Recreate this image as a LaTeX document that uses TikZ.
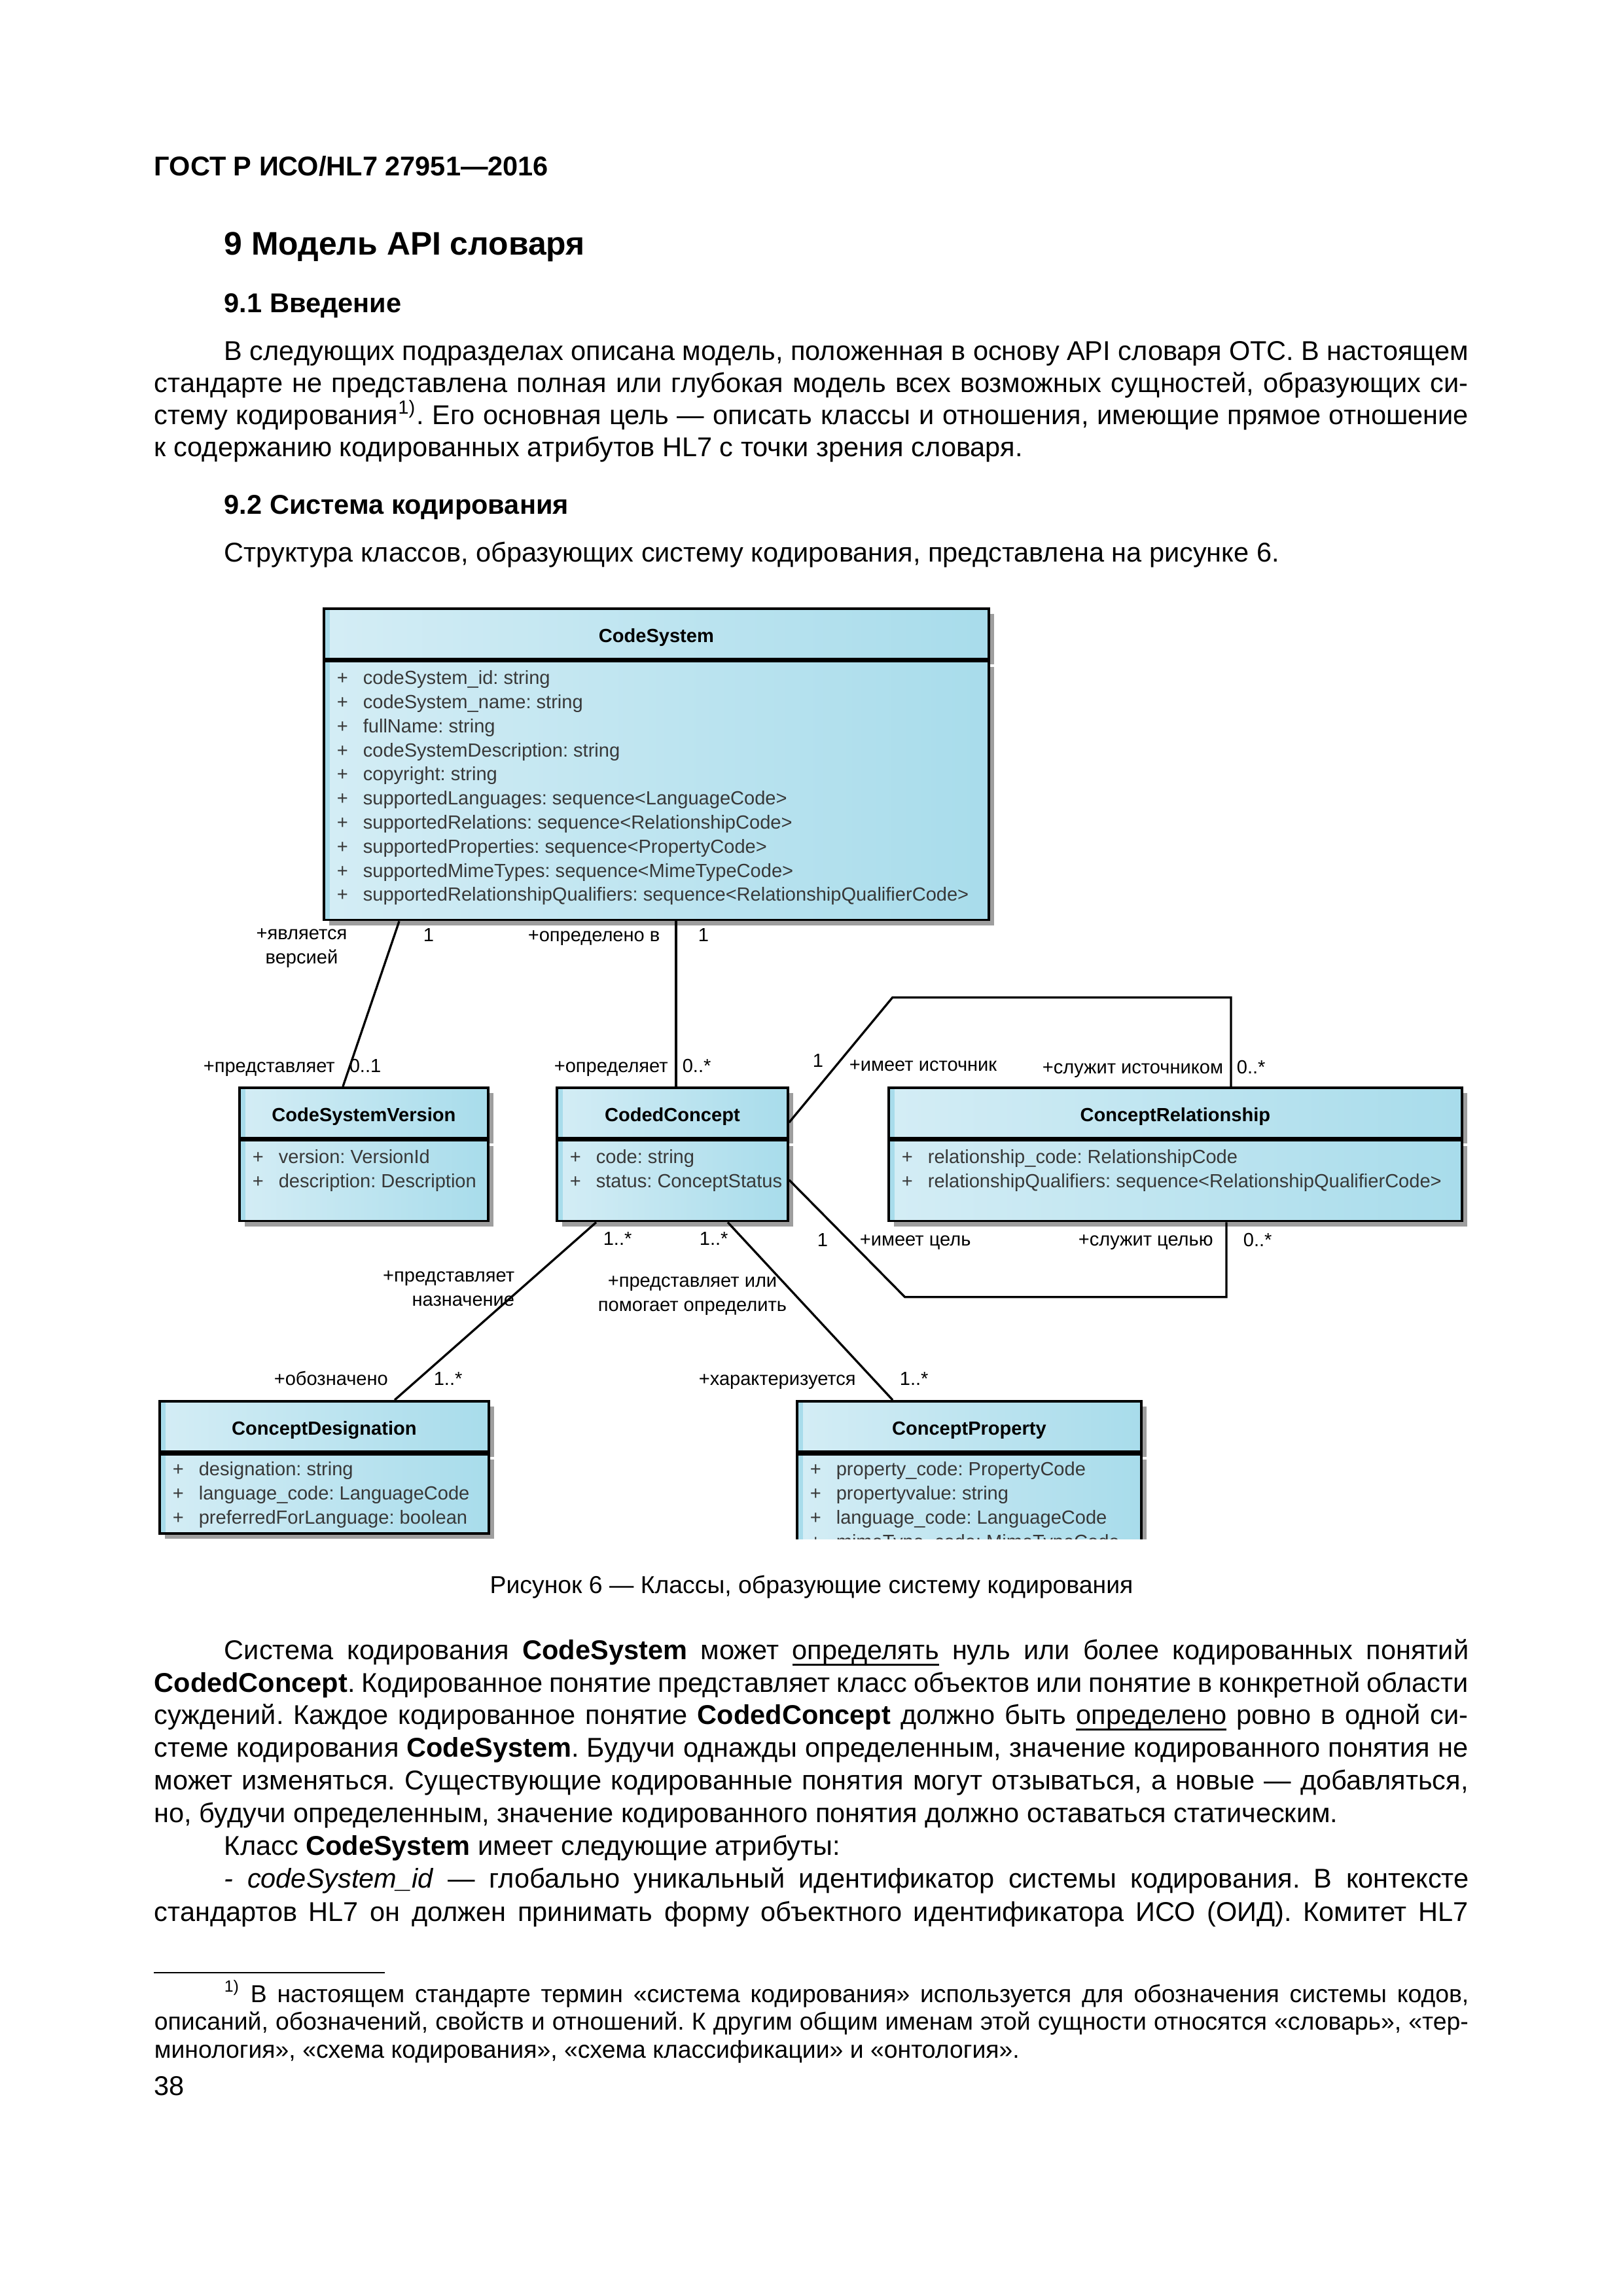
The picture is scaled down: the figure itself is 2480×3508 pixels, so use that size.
\documentclass[tikz,border=0pt]{standalone}
\usepackage{fontspec}
\setmainfont{Liberation Sans}
\usetikzlibrary{calc,shadows}
\newlength{\pxu}
\setlength{\pxu}{0.084667mm}
\definecolor{umlL}{RGB}{212,237,245}
\definecolor{umlR}{RGB}{168,220,235}
\newcommand{\txtfont}{\fontsize{10pt}{12pt}\selectfont}
\newcommand{\secfont}{\fontsize{12pt}{14pt}\selectfont\bfseries}
\newcommand{\subfont}{\fontsize{10pt}{12pt}\selectfont\bfseries}
\newcommand{\capfont}{\fontsize{9pt}{11pt}\selectfont}
\newcommand{\fnfont}{\fontsize{9pt}{11pt}\selectfont}
\newcommand{\umlfont}{\fontsize{7pt}{8.9pt}\selectfont}
% justified lines: full width and indented
\newcommand{\fl}[1]{\makebox[170mm][s]{#1}}
\newcommand{\il}[1]{\makebox[161mm][s]{#1}}
\newcommand{\uln}[1]{\setbox0\hbox{#1}\rlap{\rule[-2.3pt]{\wd0}{0.6pt}}\box0\relax}
\newcommand{\attrplus}{\makebox[40\pxu][l]{+}}
\tikzset{
  txt/.style    ={anchor=base west, inner sep=0pt, font=\txtfont},
  hdg/.style    ={anchor=base west, inner sep=0pt, font=\subfont},
  fn/.style     ={anchor=base west, inner sep=0pt, font=\fnfont},
  clshead/.style={draw, line width=0.9pt, anchor=north west, inner sep=0pt,
                  minimum height=77*\pxu, font=\umlfont\bfseries,
                  text height=6.4pt, text depth=0pt,
                  left color=umlL, right color=umlR,
                  path picture={\fill[umlR] (path picture bounding box.north west)
                    rectangle ([xshift=0.8mm]path picture bounding box.south west);},
                  drop shadow={shadow xshift=0.68mm, shadow yshift=-0.68mm,
                               fill=black!38, opacity=1}},
  clsbody/.style={clshead, font=\umlfont},
  attr/.style   ={anchor=base west, inner sep=0pt, font=\umlfont, text=black!78},
  lbl/.style    ={anchor=base west, inner sep=0pt, font=\umlfont},
  assoc/.style  ={line width=0.8pt},
}
\begin{document}
\frenchspacing
\begin{tikzpicture}[x=0.084667mm, y=-0.084667mm]
  \useasboundingbox (0,0) rectangle (2480,3508);
  % ---- page head and text above the figure
  \node[hdg] (gost) at (235,268) {ГОСТ Р ИСО/HL7 27951—2016};
  \node[hdg, font=\secfont] (sec9) at (342,389) {9 Модель API словаря};
  \node[hdg] (sec91) at (342,477) {9.1 Введение};
  \node[txt] (p1a) at (342,550) {\il{В следующих подразделах описана модель, положенная в основу API словаря ОТС. В настоящем}};
  \node[txt] (p1b) at (235,599) {\fl{стандарте не представлена полная или глубокая модель всех возможных сущностей, образующих си-}};
  \node[txt] (p1c) at (235,648) {\fl{стему кодирования\textsuperscript{1)}. Его основная цель — описать классы и отношения, имеющие прямое отношение}};
  \node[txt] (p1d) at (235,697) {к содержанию кодированных атрибутов HL7 с точки зрения словаря.};
  \node[hdg] (sec92) at (342,785) {9.2 Система кодирования};
  \node[txt] (p2a) at (342,858) {Структура классов, образующих систему кодирования, представлена на рисунке 6.};

  % ---- CodeSystem
  \node[clshead, minimum width=1016*\pxu] (csh) at (493,928) {CodeSystem};
  \node[clsbody, minimum width=1016*\pxu, minimum height=395*\pxu] (csb) at (csh.south west) {};
  \foreach \atext [count=\i from 0] in {codeSystem\_id: string, codeSystem\_name: string,
      fullName: string, codeSystemDescription: string, copyright: string,
      supportedLanguages: sequence<LanguageCode>, supportedRelations: sequence<RelationshipCode>,
      supportedProperties: sequence<PropertyCode>, supportedMimeTypes: sequence<MimeTypeCode>,
      supportedRelationshipQualifiers: sequence<RelationshipQualifierCode>}
    \node[attr] (csa\i) at ($(csb.north west)+(21,37+36.8*\i)$) {\attrplus\atext};
  % ---- CodeSystemVersion
  \node[clshead, minimum width=380*\pxu] (csvh) at (364,1660) {CodeSystemVersion};
  \node[clsbody, minimum width=380*\pxu, minimum height=123*\pxu] (csvb) at (csvh.south west) {};
  \foreach \atext [count=\i from 0] in {version: VersionId, description: Description}
    \node[attr] (csva\i) at ($(csvb.north west)+(21,37+36.8*\i)$) {\attrplus\atext};
  % ---- CodedConcept
  \node[clshead, minimum width=353*\pxu] (cch) at (849,1660) {CodedConcept};
  \node[clsbody, minimum width=353*\pxu, minimum height=123*\pxu] (ccb) at (cch.south west) {};
  \foreach \atext [count=\i from 0] in {code: string, status: ConceptStatus}
    \node[attr] (cca\i) at ($(ccb.north west)+(21,37+36.8*\i)$) {\attrplus\atext};
  % ---- ConceptRelationship
  \node[clshead, minimum width=876*\pxu] (crh) at (1356,1660) {ConceptRelationship};
  \node[clsbody, minimum width=876*\pxu, minimum height=123*\pxu] (crb) at (crh.south west) {};
  \foreach \atext [count=\i from 0] in {relationship\_code: RelationshipCode,
      relationshipQualifiers: sequence<RelationshipQualifierCode>}
    \node[attr] (cra\i) at ($(crb.north west)+(21,37+36.8*\i)$) {\attrplus\atext};
  % ---- ConceptDesignation
  \node[clshead, minimum width=503*\pxu] (cdh) at (242,2139) {ConceptDesignation};
  \node[clsbody, minimum width=503*\pxu, minimum height=121*\pxu] (cdb) at (cdh.south west) {};
  \foreach \atext [count=\i from 0] in {designation: string, language\_code: LanguageCode,
      preferredForLanguage: boolean}
    \node[attr] (cda\i) at ($(cdb.north west)+(21,35+36.8*\i)$) {\attrplus\atext};
  % ---- ConceptProperty, cut off at the page's figure edge
  \begin{scope}
  \clip (1100,2100) rectangle (1800,2351);
  \node[clshead, minimum width=526*\pxu] (cph) at (1216,2139) {ConceptProperty};
  \node[clsbody, minimum width=526*\pxu, minimum height=300*\pxu] (cpb) at (cph.south west) {};
  \foreach \atext [count=\i from 0] in {property\_code: PropertyCode, propertyvalue: string,
      language\_code: LanguageCode, mimeType\_code: MimeTypeCode}
    \node[attr] (cpa\i) at ($(cpb.north west)+(21,35+36.8*\i)$) {\attrplus\atext};
  \end{scope}

  % ---- associations
  \draw[assoc] ($(csb.south west)+(117,0)$) -- ($(csvh.north west)+(160,0)$);
  \draw[assoc] ($(csb.south west)+(540,0)$) -- ($(cch.north west)+(184,0)$);
  \draw[assoc] ($(cch.north east)+(0,55)$) -- ++(158,-191) -| ($(crh.north west)+(525,0)$);
  \draw[assoc] ($(ccb.north east)+(0,62)$) -- ++(177,179) -| ($(crb.south west)+(518,0)$);
  \draw[assoc] ($(ccb.south west)+(62,0)$) -- ($(cdh.north west)+(361,0)$);
  \draw[assoc] ($(ccb.south west)+(263,0)$) -- ($(cph.north west)+(148,0)$);

  % ---- role names and multiplicities
  \node[lbl, align=center, anchor=center] (rver) at (461,1449) {+является\\версией};
  \node[lbl] (m1a) at (646,1438) {1};
  \node[lbl] (rdefin) at (806,1438) {+определено в};
  \node[lbl] (m1b) at (1066,1438) {1};
  \node[lbl] (rrep) at (310,1638) {+представляет};
  \node[lbl] (m01) at (533,1638) {0..1};
  \node[lbl] (rdefs) at (846,1638) {+определяет};
  \node[lbl] (m0a) at (1042,1638) {0..*};
  \node[lbl] (m1c) at (1241,1630) {1};
  \node[lbl] (rsrc) at (1297,1636) {+имеет источник};
  \node[lbl] (rsrv) at (1592,1640) {+служит источником};
  \node[lbl] (m0b) at (1889,1640) {0..*};
  \node[lbl] (m1d) at (1248,1904) {1};
  \node[lbl] (rtgt) at (1313,1903) {+имеет цель};
  \node[lbl] (rtgs) at (1647,1903) {+служит целью};
  \node[lbl] (m0c) at (1899,1904) {0..*};
  \node[lbl] (m1e) at (921,1902) {1..*};
  \node[lbl] (m1f) at (1068,1902) {1..*};
  \node[lbl, align=right, anchor=east] (rdes) at (787,1969) {+представляет\\назначение};
  \node[lbl, align=center, anchor=center] (rhelp) at (1058,1980) {+представляет или\\помогает определить};
  \node[lbl] (rmark) at (418,2116) {+обозначено};
  \node[lbl] (m1g) at (662,2116) {1..*};
  \node[lbl] (rchar) at (1067,2116) {+характеризуется};
  \node[lbl] (m1h) at (1374,2116) {1..*};

  % ---- caption and text below the figure
  \node[anchor=base, inner sep=0pt, font=\capfont] (capt) at (1240,2434)
    {Рисунок 6 — Классы, образующие систему кодирования};
  \node[txt] (p3a) at (342,2535) {\il{Система кодирования \textbf{CodeSystem} может \uln{определять} нуль или более кодированных понятий}};
  \node[txt] (p3b) at (235,2585) {\fl{\textbf{CodedConcept}. Кодированное понятие представляет класс объектов или понятие в конкретной области}};
  \node[txt] (p3c) at (235,2634) {\fl{суждений. Каждое кодированное понятие \textbf{CodedConcept} должно быть \uln{определено} ровно в одной си-}};
  \node[txt] (p3d) at (235,2684) {\fl{стеме кодирования \textbf{CodeSystem}. Будучи однажды определенным, значение кодированного понятия не}};
  \node[txt] (p3e) at (235,2734) {\fl{может изменяться. Существующие кодированные понятия могут отзываться, а новые — добавляться,}};
  \node[txt] (p3f) at (235,2784) {но, будучи определенным, значение кодированного понятия должно оставаться статическим.};
  \node[txt] (p4a) at (342,2834) {Класс \textbf{CodeSystem} имеет следующие атрибуты:};
  \node[txt] (p5a) at (342,2884) {\il{\textit{- codeSystem\_id} — глобально уникальный идентификатор системы кодирования. В контексте}};
  \node[txt] (p5b) at (235,2935) {\fl{стандартов HL7 он должен принимать форму объектного идентификатора ИСО (ОИД). Комитет HL7}};

  % ---- footnote and page number
  \draw[line width=0.5pt] (235,3014) -- (588,3014);
  \node[fn] (fn1) at (342,3059) {\il{\textsuperscript{1)} В настоящем стандарте термин «система кодирования» используется для обозначения системы кодов,}};
  \node[fn] (fn2) at (235,3101) {\fl{описаний, обозначений, свойств и отношений. К другим общим именам этой сущности относятся «словарь», «тер-}};
  \node[fn] (fn3) at (235,3144) {минология», «схема кодирования», «схема классификации» и «онтология».};
  \node[txt] (pno) at (235,3201) {38};
\end{tikzpicture}
\end{document}
